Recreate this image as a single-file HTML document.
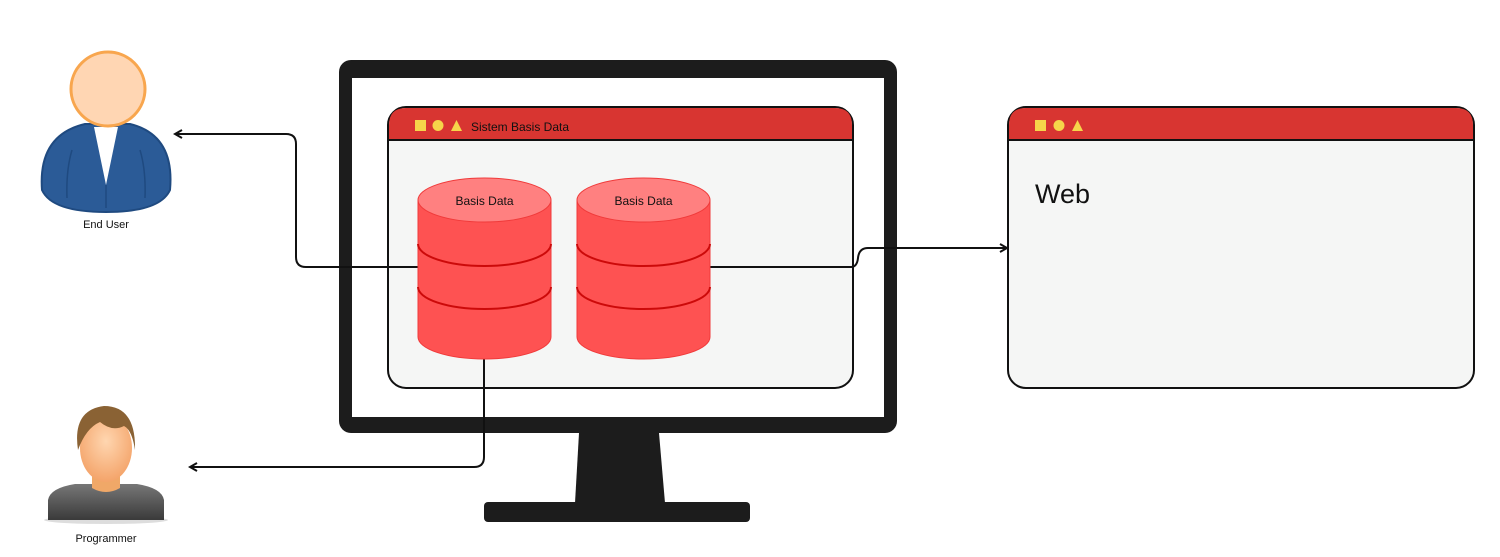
<!DOCTYPE html>
<html><head><meta charset="utf-8"><style>
html,body{margin:0;padding:0;background:#fff;width:1500px;height:557px;overflow:hidden}
svg{display:block}
text{font-family:"Liberation Sans",sans-serif;fill:#111}
</style></head><body>
<svg width="1500" height="557" viewBox="0 0 1500 557" xmlns="http://www.w3.org/2000/svg">
<defs>
<marker id="ar" markerWidth="10" markerHeight="10" refX="8" refY="5" orient="auto" markerUnits="userSpaceOnUse">
<path d="M1,1 L8,5 L1,9" fill="none" stroke="#111" stroke-width="2"/>
</marker>
<radialGradient id="face" cx="0.5" cy="0.4" r="0.6"><stop offset="0" stop-color="#ffd6b0"/><stop offset="1" stop-color="#f4a46a"/></radialGradient>
<linearGradient id="shirt" x1="0" y1="0" x2="0" y2="1"><stop offset="0" stop-color="#777"/><stop offset="1" stop-color="#3a3a3a"/></linearGradient>
</defs>

<!-- monitor -->
<rect x="339" y="60" width="558" height="373" rx="12" fill="#1c1c1c"/>
<rect x="352" y="78" width="532" height="339" fill="#fff"/>
<path d="M579,433 L659,433 L665,503 L575,503 Z" fill="#1c1c1c"/>
<rect x="484" y="502" width="266" height="20" rx="4" fill="#1c1c1c"/>

<!-- window 1 -->
<rect x="388" y="107" width="465" height="281" rx="18" fill="#f5f6f5" stroke="#111" stroke-width="2"/>
<path d="M389,140 L389,125 Q389,108 406,108 L835,108 Q852,108 852,125 L852,140 Z" fill="#d83531"/>
<line x1="388" y1="140" x2="853" y2="140" stroke="#111" stroke-width="2"/>
<rect x="415" y="120" width="11" height="11" fill="#f6d54a"/>
<circle cx="438" cy="125.5" r="5.5" fill="#f6d54a"/>
<path d="M451,131 L456.5,120 L462,131 Z" fill="#f6d54a"/>
<text x="471" y="131" font-size="12">Sistem Basis Data</text>

<!-- window 2 -->
<rect x="1008" y="107" width="466" height="281" rx="18" fill="#f5f6f5" stroke="#111" stroke-width="2"/>
<path d="M1009,140 L1009,125 Q1009,108 1026,108 L1456,108 Q1473,108 1473,125 L1473,140 Z" fill="#d83531"/>
<line x1="1008" y1="140" x2="1474" y2="140" stroke="#111" stroke-width="2"/>
<rect x="1035" y="120" width="11" height="11" fill="#f6d54a"/>
<circle cx="1059" cy="125.5" r="5.5" fill="#f6d54a"/>
<path d="M1072,131 L1077.5,120 L1083,131 Z" fill="#f6d54a"/>
<text x="1035" y="203" font-size="27">Web</text>

<!-- connectors -->
<path d="M418,267 L306,267 Q296,267 296,257 L296,144 Q296,134 286,134 L175,134" fill="none" stroke="#111" stroke-width="2" marker-end="url(#ar)"/>
<path d="M484,355 L484,457 Q484,467 474,467 L190,467" fill="none" stroke="#111" stroke-width="2" marker-end="url(#ar)"/>
<path d="M710,267 L851,267 Q857,267 858,258 Q859,248 868,248 L1007,248" fill="none" stroke="#111" stroke-width="2" marker-end="url(#ar)"/>

<!-- cylinders -->
<g id="cyl">
<path d="M418,200 L418,337 A66.5,22 0 0 0 551,337 L551,200 Z" fill="#fe5252" stroke="#f03a3a" stroke-width="1"/>
<path d="M418,244 A66.5,22 0 0 0 551,244" fill="none" stroke="#cc0a0a" stroke-width="2"/>
<path d="M418,287 A66.5,22 0 0 0 551,287" fill="none" stroke="#cc0a0a" stroke-width="2"/>
<ellipse cx="484.5" cy="200" rx="66.5" ry="22" fill="#ff8080" stroke="#f03a3a" stroke-width="1"/>
</g>
<text x="484.5" y="205" font-size="12" text-anchor="middle">Basis Data</text>
<use href="#cyl" transform="translate(159,0)"/>
<text x="643.5" y="205" font-size="12" text-anchor="middle">Basis Data</text>

<!-- end user -->
<path d="M42,190 Q38,135 85,124 L130,124 Q175,135 170,190 Q160,212 106,212 Q52,212 42,190 Z" fill="#2b5b97" stroke="#1f4a80" stroke-width="2"/>
<path d="M94,127 L118,127 L106,185 Z" fill="#fff"/>
<path d="M72,150 Q66,170 67,198 M140,150 Q146,170 145,198 M106,185 L106,208" stroke="#1f4a80" stroke-width="1.5" fill="none"/>
<circle cx="108" cy="89" r="37" fill="#ffd6b3" stroke="#f8a64e" stroke-width="3"/>
<text x="106" y="228" font-size="11" text-anchor="middle">End User</text>

<!-- programmer -->
<ellipse cx="106" cy="520" rx="62" ry="4" fill="#ddd"/>
<path d="M48,520 L48,500 Q50,488 75,484 L137,484 Q162,488 164,500 L164,520 Z" fill="url(#shirt)"/>
<path d="M92,470 L92,488 Q106,496 120,488 L120,470 Z" fill="#f0a868"/>
<ellipse cx="106" cy="448" rx="26" ry="34" fill="url(#face)"/>
<path d="M78,450 Q72,410 104,406 Q136,406 135,450 Q132,430 124,426 Q112,432 100,422 Q86,428 78,450 Z" fill="#8a6234"/>
<text x="106" y="542" font-size="11" text-anchor="middle">Programmer</text>
</svg>
</body></html>
